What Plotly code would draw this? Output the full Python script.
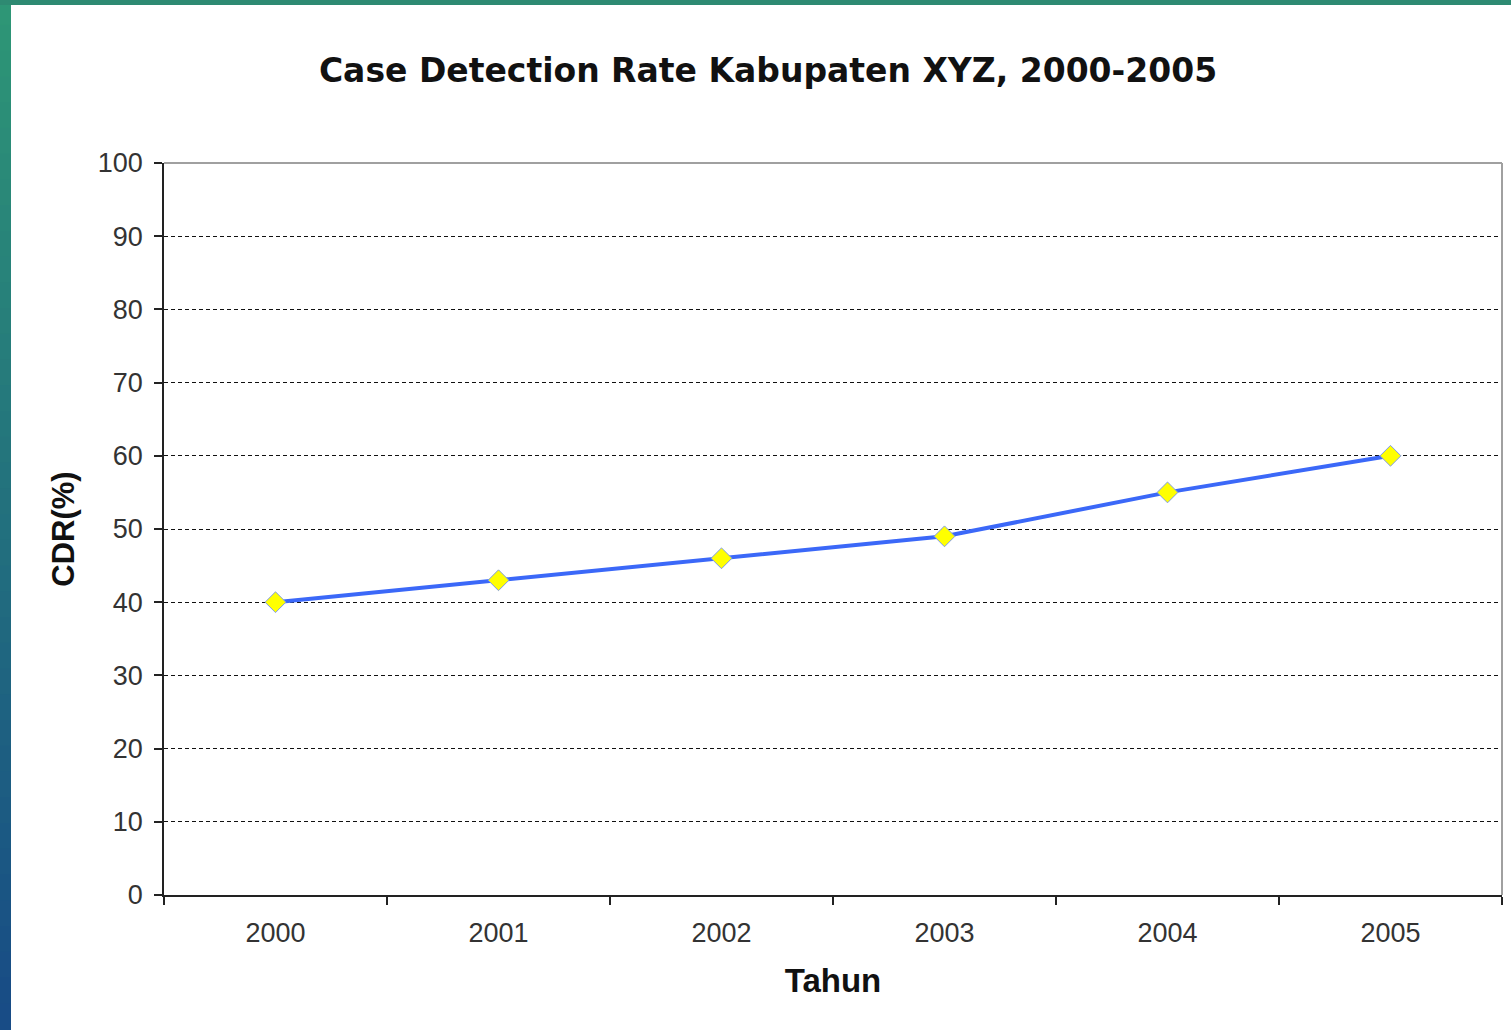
import plotly.graph_objects as go

years = ["2000", "2001", "2002", "2003", "2004", "2005"]
cdr = [40, 43, 46, 49, 55, 60]
y_ticks = [0, 10, 20, 30, 40, 50, 60, 70, 80, 90, 100]

W, H = 1511, 1030
L, R, T, B = 164, 1502, 163, 895
PW, PH = R - L, B - T

def px(x):
    return (x - L) / PW

def py(y):
    return (B - y) / PH

fig = go.Figure()
fig.add_trace(go.Scatter(
    x=years, y=cdr, mode="lines+markers",
    line=dict(color="#3b68f8", width=4),
    marker=dict(symbol="diamond", size=16, color="#ffff00",
                line=dict(color="#7f9be6", width=1)),
    cliponaxis=False, showlegend=False,
))

shapes = []
# decorative slide background strips (gradient approximated)
n = 40
top_c = (46, 150, 118)
bot_c = (24, 76, 134)
for i in range(n):
    f = i / (n - 1)
    c = tuple(int(top_c[k] + (bot_c[k] - top_c[k]) * f) for k in range(3))
    y0 = H * i / n - 1
    y1 = H * (i + 1) / n + 1
    shapes.append(dict(type="rect", xref="paper", yref="paper",
                       x0=px(-2), x1=px(11), y0=py(y1), y1=py(y0),
                       fillcolor="rgb(%d,%d,%d)" % c, line=dict(width=0), layer="below"))
shapes.append(dict(type="rect", xref="paper", yref="paper",
                   x0=px(-2), x1=px(W + 2), y0=py(5), y1=py(-2),
                   fillcolor="rgb(46,138,114)", line=dict(width=0), layer="below"))
# gray top/right plot border
shapes.append(dict(type="line", xref="paper", yref="paper", x0=0, x1=1, y0=1, y1=1,
                   line=dict(color="#a0a0a0", width=2)))
shapes.append(dict(type="line", xref="paper", yref="paper", x0=1, x1=1, y0=0, y1=1,
                   line=dict(color="#a0a0a0", width=2)))

fig.update_layout(
    width=W, height=H,
    margin=dict(l=L, r=W - R, t=T, b=H - B, pad=0),
    paper_bgcolor="white", plot_bgcolor="white",
    font=dict(family="Liberation Sans, Arial, sans-serif", color="#1a1a1a"),
    title=dict(text="<b>Case Detection Rate Kabupaten XYZ, 2000-2005</b>",
               x=768 / W, xanchor="center", y=1 - 70 / H, yanchor="middle",
               font=dict(family="DejaVu Sans, sans-serif", size=33, color="#111111")),
    shapes=shapes,
    xaxis=dict(
        type="category", tickson="boundaries", ticks="outside", ticklen=8,
        tickcolor="#222", tickwidth=1.5, showline=True, linecolor="#222", linewidth=1.5,
        showgrid=False, tickfont=dict(size=27, color="#333"),
        ticklabelstandoff=13,
        title=dict(text="<b>Tahun</b>", font=dict(size=33, color="#111"), standoff=22),
        range=[-0.5, 5.5],
    ),
    yaxis=dict(
        range=[0, 100], tickvals=y_ticks, ticks="outside", ticklen=8,
        tickcolor="#222", tickwidth=1.5, showline=True, linecolor="#222", linewidth=1.5,
        showgrid=True, gridcolor="#111", gridwidth=1, griddash="4px,3px",
        zeroline=False, tickfont=dict(size=27, color="#333"),
        ticklabelstandoff=6,
        title=dict(text="<b>CDR(%)</b>", font=dict(size=31, color="#111"), standoff=14),
    ),
)

fig.write_html("out.html", config={"displayModeBar": False},
               post_script="document.body.style.margin='0';document.body.style.overflow='hidden';")
